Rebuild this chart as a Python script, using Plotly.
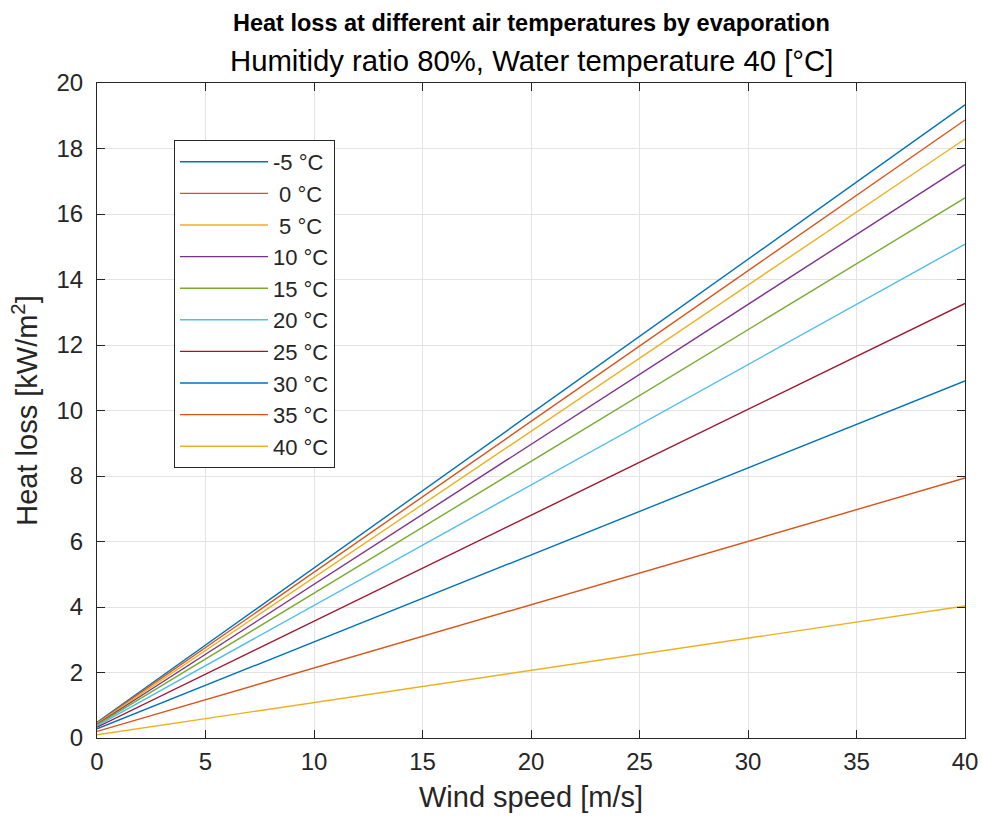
import plotly.graph_objects as go

wind_speed = [0, 10, 20, 30, 40]
air_temps = ["-5 °C", "\u00a00 °C", "\u00a05 °C", "10 °C", "15 °C", "20 °C", "25 °C", "30 °C", "35 °C", "40 °C"]
loss_m5 = [0.48, 5.19, 9.90, 14.62, 19.33]
loss_0 = [0.46, 5.06, 9.67, 14.27, 18.87]
loss_5 = [0.44, 4.90, 9.37, 13.83, 18.29]
loss_10 = [0.42, 4.69, 8.97, 13.24, 17.51]
loss_15 = [0.40, 4.42, 8.45, 12.47, 16.49]
loss_20 = [0.37, 4.05, 7.73, 11.40, 15.08]
loss_25 = [0.33, 3.56, 6.80, 10.03, 13.27]
loss_30 = [0.28, 2.94, 5.59, 8.25, 10.90]
loss_35 = [0.20, 2.14, 4.07, 6.01, 7.94]
loss_40 = [0.10, 1.08, 2.07, 3.05, 4.03]
series = [loss_m5, loss_0, loss_5, loss_10, loss_15, loss_20, loss_25, loss_30, loss_35, loss_40]

colors = ["#0072BD", "#D95319", "#EDB120", "#7E2F8E", "#77AC30", "#4DBEEE", "#A2142F",
          "#0072BD", "#D95319", "#EDB120"]

fig = go.Figure()
for i, (name, vals) in enumerate(zip(air_temps, series)):
    fig.add_trace(go.Scatter(x=wind_speed, y=vals, mode="lines", name=name,
                             line=dict(color=colors[i], width=1.4)))

font_family = "Liberation Sans, Arial, sans-serif"
axis_common = dict(showline=True, mirror="ticks", linecolor="#262626", linewidth=1,
                   ticks="inside", ticklen=8, tickcolor="#262626",
                   showgrid=True, gridcolor="#E3E3E3", gridwidth=1, zeroline=False,
                   automargin=False,
                   tickfont=dict(size=24, color="#262626", family=font_family))

fig.update_layout(
    width=982, height=825, autosize=False,
    margin=dict(l=97, r=17, t=83, b=87, autoexpand=False),
    paper_bgcolor="white", plot_bgcolor="white",
    font=dict(family=font_family, color="#262626"),
    showlegend=True,
    legend=dict(x=0.0887, y=0.913, xanchor="left", yanchor="top",
                bordercolor="#262626", borderwidth=1, bgcolor="white",
                font=dict(size=22, color="#262626", family=font_family),
                itemwidth=88, traceorder="normal"),
    xaxis=dict(range=[0, 40], dtick=5, ticklabelstandoff=2,
               title=dict(text="Wind speed [m/s]", font=dict(size=29, color="#262626"), standoff=12),
               **axis_common),
    yaxis=dict(range=[0, 20], dtick=2, ticklabelstandoff=8,
               title=dict(text="Heat loss [kW/m<sup>2</sup>]", font=dict(size=29, color="#262626"), standoff=10),
               **axis_common),
)
fig.add_annotation(text="<b>Heat loss at different air temperatures by evaporation</b>",
                   xref="paper", yref="paper", x=0.5, y=1, yshift=60, showarrow=False,
                   font=dict(size=23.5, color="black", family=font_family), yanchor="middle")
fig.add_annotation(text="Humitidy ratio 80%, Water temperature 40 [°C]",
                   xref="paper", yref="paper", x=0.5, y=1, yshift=23, showarrow=False,
                   font=dict(size=29.3, color="black", family=font_family), yanchor="middle")

fig.write_html("out.html", config={"displayModeBar": False},
               post_script="document.body.style.margin='0';document.body.style.overflow='hidden';")
